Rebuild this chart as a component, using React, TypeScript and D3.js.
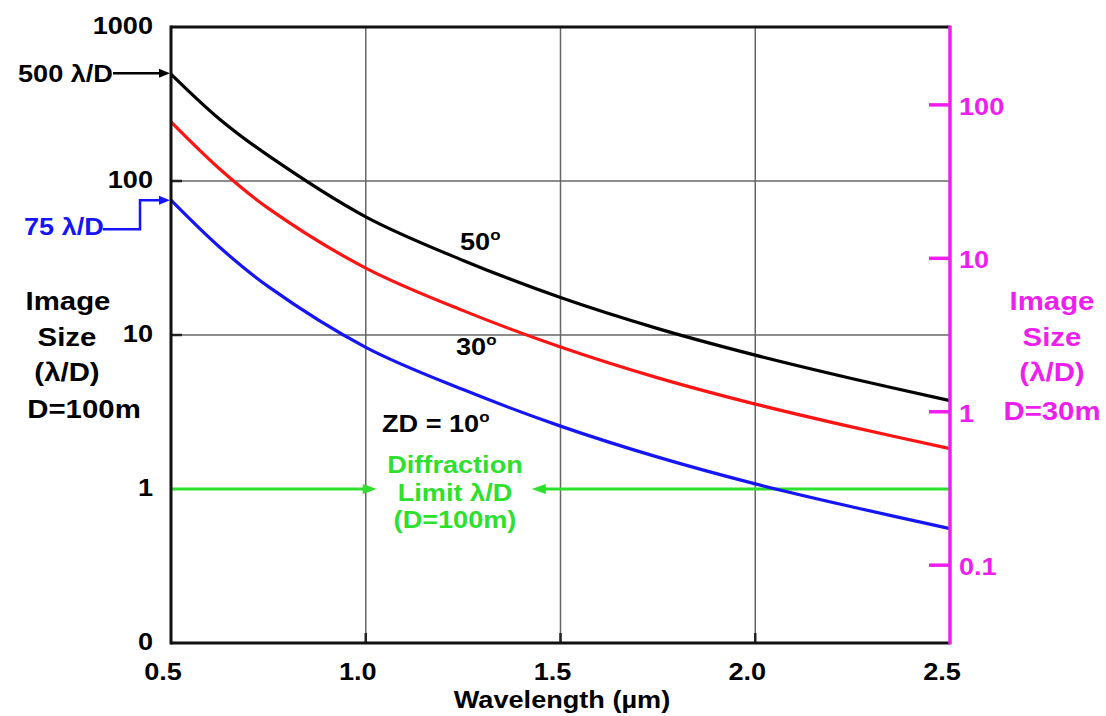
import React from "react";
import * as d3 from "d3";

// ---- Data ----
const WAVELENGTH = [0.5, 0.625, 0.75, 1.0, 1.25, 1.5, 1.75, 2.0, 2.25, 2.5];
const ZD50 = [495, 252, 146, 58.5, 30.5, 17.5, 11.0, 7.4, 5.2, 3.75];
const ZD30 = [242, 119.7, 66.4, 27.2, 14.4, 8.36, 5.27, 3.56, 2.52, 1.83];
const ZD10 = [75, 37.1, 20.6, 8.32, 4.42, 2.56, 1.61, 1.08, 0.764, 0.553];
const DIFFRACTION_LIMIT = 1;

const X_TICKS = [0.5, 1.0, 1.5, 2.0, 2.5];
const X_TICK_LABELS = ["0.5", "1.0", "1.5", "2.0", "2.5"];
const X_GRID = [1.0, 1.5, 2.0];
const YL_TICKS = [1000, 100, 10, 1, 0.1];
const YL_TICK_LABELS = ["1000", "100", "10", "1", "0"];
const YL_GRID = [100, 10];
const YR_TICKS = [100, 10, 1, 0.1];
const YR_TICK_LABELS = ["100", "10", "1", "0.1"];

// ---- Layout ----
const W = 1106;
const H = 716;
const LEFT = 171;
const RIGHT = 950;
const TOP = 27;
const BOTTOM = 643;
const SX = 1.13;
const FONT = "'Liberation Sans', Arial, Helvetica, sans-serif";
const MAGENTA = "#ee1fee";
const GREEN = "#2de02d";
const BLUE = "#1515f5";
const RED = "#ff1414";

const x = d3.scaleLinear().domain([0.5, 2.5]).range([LEFT, RIGHT]);
const yL = d3.scaleLog().domain([0.1, 1000]).range([BOTTOM, TOP]);
const yR = d3.scaleLog().domain([0.0311, 321.8]).range([BOTTOM, TOP]);

function T({ x: tx, y: ty, anchor = "start", size = 24, fill = "#000", children }: any) {
  return (
    <text
      transform={`translate(${tx},${ty}) scale(${SX},1)`}
      textAnchor={anchor}
      fontSize={size}
      fontWeight="bold"
      fill={fill}
      fontFamily={FONT}
    >
      {children}
    </text>
  );
}

function arrowHead(tipX: number, tipY: number, dir: 1 | -1, len = 12, half = 5) {
  const bx = tipX - dir * len;
  return `M${tipX},${tipY} L${bx},${tipY - half} L${bx},${tipY + half} Z`;
}

const Deg = () => (
  <tspan fontSize={15} dy={-10}>
    o
  </tspan>
);

export default function App() {
  const line = d3
    .line<number>()
    .x((_, i) => x(WAVELENGTH[i]))
    .y((d) => yL(d))
    .curve(d3.curveCatmullRom.alpha(0.5));

  const series = [
    { vals: ZD50, color: "#000" },
    { vals: ZD30, color: RED },
    { vals: ZD10, color: BLUE },
  ];

  const y500 = yL(500);
  const y75 = yL(75);
  const yDL = yL(DIFFRACTION_LIMIT);

  return (
    <svg
      width={W}
      height={H}
      style={{ position: "absolute", left: 0, top: 0, background: "#fff" }}
    >
      <rect x={0} y={0} width={W} height={H} fill="#fff" />

      {/* grid */}
      {X_GRID.map((v) => (
        <line key={"gx" + v} x1={x(v)} x2={x(v)} y1={TOP} y2={BOTTOM} stroke="#666" strokeWidth={1.5} />
      ))}
      {YL_GRID.map((v) => (
        <line key={"gy" + v} x1={LEFT} x2={RIGHT} y1={yL(v)} y2={yL(v)} stroke="#666" strokeWidth={1.5} />
      ))}
      {/* small ticks */}
      {X_GRID.map((v) => (
        <line key={"tx" + v} x1={x(v)} x2={x(v)} y1={BOTTOM - 10} y2={BOTTOM} stroke="#222" strokeWidth={2.5} />
      ))}
      {YL_GRID.map((v) => (
        <line key={"ty" + v} x1={LEFT} x2={LEFT + 11} y1={yL(v)} y2={yL(v)} stroke="#222" strokeWidth={2.5} />
      ))}

      {/* diffraction limit */}
      <line x1={LEFT} x2={x(1.0) - 1} y1={yDL} y2={yDL} stroke={GREEN} strokeWidth={3} />
      <path d={arrowHead(x(1.0) + 11, yDL, 1, 14, 5)} fill={GREEN} />
      <line x1={x(1.0) + 178} x2={RIGHT} y1={yDL} y2={yDL} stroke={GREEN} strokeWidth={3} />
      <path d={arrowHead(x(1.0) + 166, yDL, -1, 14, 5)} fill={GREEN} />

      {/* curves */}
      {series.map((s, i) => (
        <path key={i} d={line(s.vals) || ""} fill="none" stroke={s.color} strokeWidth={3.2} />
      ))}

      {/* frame */}
      <line x1={LEFT} x2={RIGHT} y1={TOP} y2={TOP} stroke="#111" strokeWidth={3} />
      <line x1={LEFT} x2={RIGHT} y1={BOTTOM} y2={BOTTOM} stroke="#111" strokeWidth={3} />
      <line x1={LEFT} x2={LEFT} y1={TOP - 1.5} y2={BOTTOM + 1.5} stroke="#111" strokeWidth={3} />
      <line x1={RIGHT} x2={RIGHT} y1={TOP - 1.5} y2={BOTTOM + 1.5} stroke={MAGENTA} strokeWidth={3.5} />

      {/* right axis ticks */}
      {YR_TICKS.map((v, i) => (
        <g key={"r" + v}>
          <line x1={RIGHT - 21} x2={RIGHT} y1={yR(v)} y2={yR(v)} stroke={MAGENTA} strokeWidth={3.5} />
          <T x={RIGHT + 9} y={yR(v) + 10} fill={MAGENTA}>
            {YR_TICK_LABELS[i]}
          </T>
        </g>
      ))}

      {/* left tick labels */}
      {YL_TICKS.map((v, i) => (
        <T key={"l" + v} x={153} y={yL(v) + 7} anchor="end">
          {YL_TICK_LABELS[i]}
        </T>
      ))}

      {/* bottom tick labels */}
      {X_TICKS.map((v, i) => (
        <T key={"b" + v} x={x(v) - 8} y={680} anchor="middle">
          {X_TICK_LABELS[i]}
        </T>
      ))}

      {/* axis titles */}
      <T x={562} y={708} anchor="middle" size={24}>
        Wavelength (µm)
      </T>
      <T x={68} y={310} anchor="middle" size={26}>Image</T>
      <T x={67} y={346} anchor="middle" size={26}>Size</T>
      <T x={67} y={381} anchor="middle" size={26}>(λ/D)</T>
      <T x={84} y={418} anchor="middle" size={26}>D=100m</T>

      <T x={1052} y={310} anchor="middle" size={26} fill={MAGENTA}>Image</T>
      <T x={1052} y={346} anchor="middle" size={26} fill={MAGENTA}>Size</T>
      <T x={1052} y={381} anchor="middle" size={26} fill={MAGENTA}>(λ/D)</T>
      <T x={1052} y={420} anchor="middle" size={26} fill={MAGENTA}>D=30m</T>

      {/* 500 λ/D annotation */}
      <T x={18} y={y500 + 9}>500 λ/D</T>
      <line x1={113} x2={160} y1={y500} y2={y500} stroke="#000" strokeWidth={2.5} />
      <path d={arrowHead(LEFT - 1, y500, 1, 11, 4.5)} fill="#000" />

      {/* 75 λ/D annotation */}
      <T x={24} y={y75 + 35} fill={BLUE}>75 λ/D</T>
      <path
        d={`M103,${y75 + 29} H140 V${y75} H160`}
        fill="none"
        stroke={BLUE}
        strokeWidth={2.5}
      />
      <path d={arrowHead(LEFT - 1, y75, 1, 11, 4.5)} fill={BLUE} />

      {/* curve labels */}
      <T x={460} y={250}>
        50<Deg />
      </T>
      <T x={456} y={355}>
        30<Deg />
      </T>
      <T x={382} y={432}>
        ZD = 10<Deg />
      </T>

      {/* diffraction label */}
      <T x={455} y={473} anchor="middle" fill={GREEN}>Diffraction</T>
      <T x={455} y={501} anchor="middle" fill={GREEN}>Limit λ/D</T>
      <T x={455} y={528} anchor="middle" fill={GREEN}>(D=100m)</T>
    </svg>
  );
}
